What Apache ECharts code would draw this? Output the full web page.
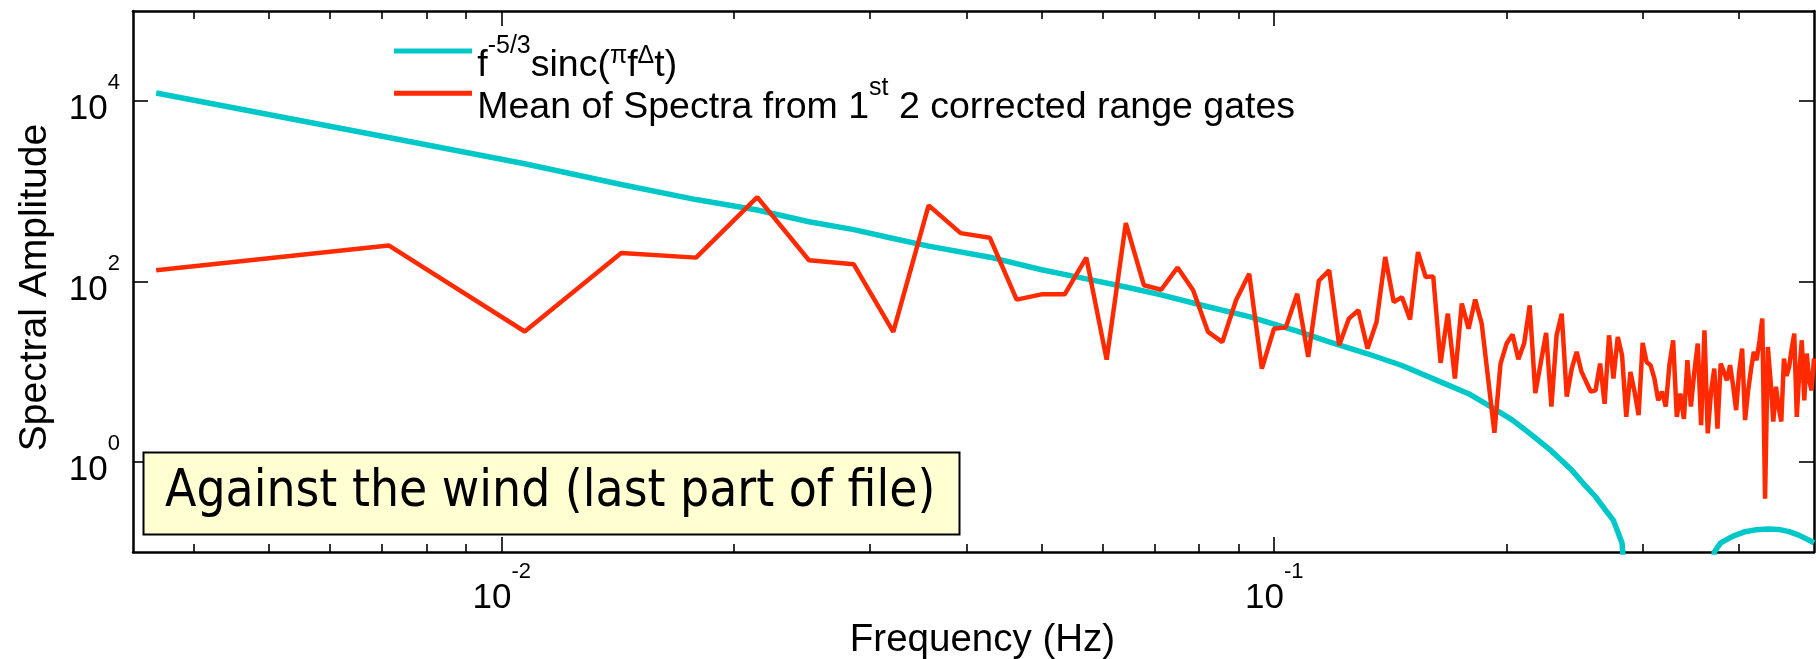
<!DOCTYPE html>
<html>
<head>
<meta charset="utf-8">
<script src="https://cdn.jsdelivr.net/npm/echarts@6/dist/echarts.min.js"></script>
<style>
html,body{margin:0;padding:0;background:#fff;}
#chart{width:1816px;height:659px;}
</style>
</head>
<body>
<div id="chart"></div>
<script>
// ---------- data ----------
const X_MIN = 1 / 300;
const X_MAX = 0.5;
const Y_MIN = 0.1;
const Y_MAX = 1e5;
const X_MAJOR_TICKS = [0.01, 0.1];
const X_MINOR_TICKS = [0.004, 0.005, 0.006, 0.007, 0.008, 0.009, 0.02, 0.03, 0.04, 0.05, 0.06, 0.07, 0.08, 0.09, 0.2, 0.3, 0.4];
const Y_TICKS = [1, 100, 10000];

// frequency resolution of the spectra (Hz); bin k sits at k * DF
const DF = 1 / 280;

// Mean of spectra, bins k = 1 .. 140
const redValues = [
  133, 251, 27.9, 207, 184, 864, 172, 155, 27.6, 699,
  344, 306, 63, 72, 72, 184, 13.6, 445, 90.8, 81,
  143, 80, 27.6, 21.3, 62, 122, 10.8, 30, 31, 73,
  14.6, 102, 133, 19.6, 38.8, 48, 18, 35.6, 187, 59,
  67, 37.8, 212, 112, 114, 12.5, 44, 8.4, 57, 30,
  63, 34, 8.4, 2.1, 12.3, 20.5, 25.8, 13.7, 20.5, 54.5,
  5.8, 12.5, 26.9, 4.1, 25.3, 44, 5.3, 10.8, 16.6, 10,
  7.7, 6.0, 6.2, 12.3, 4.4, 25.3, 8.4, 24.3, 15.2, 3.15,
  9.9, 6, 3.3, 20.8, 12.8, 11.8, 8.4, 4.8, 6, 4.1,
  12, 22.3, 3.15, 5.7, 3.0, 13.4, 4.1, 10, 20.5, 2.55,
  28.8, 2.07, 6, 10.8, 2.34, 12.3, 10, 8.0, 11.8, 7,
  3.74, 10, 18, 2.9, 6, 10.4, 16.6, 13.4, 22, 38.8,
  0.39, 18.8, 8, 2.8, 6.8, 4, 2.8, 14, 9, 11.3,
  18, 26.5, 3.15, 10, 22.3, 4.8, 15.9, 8, 6.2, 14
];

// f^-5/3 sinc curve, read at these bins (null = curve not drawn, negative lobe)
const cyanK = [1, 2, 3, 4, 5, 6, 7, 8, 9, 10, 12, 14, 16, 18, 20, 23, 26, 30, 33, 37, 41, 46, 50, 53, 57, 60, 64, 68, 71, 73, 75, 77, 79, 80,
  90,
  103, 104, 106, 110, 114, 118, 122, 126, 130, 134, 138, 140];
const cyanValues = [12300, 3950, 2020, 1190, 810, 620, 460, 376, 300, 247, 186, 135, 107, 87, 71, 52.5, 40.7, 28.2, 21.4, 15.8, 11.7, 7.7, 5.7, 4.25, 2.9, 2.07, 1.32, 0.81, 0.53, 0.41, 0.30, 0.224, 0.126, 0.03,
  null,
  0.03, 0.1, 0.126, 0.15, 0.168, 0.177, 0.18, 0.178, 0.168, 0.153, 0.135, 0.126];

const CYAN_NAME = 'f^-5/3 sinc(πfΔt)';
const RED_NAME = 'Mean of Spectra from 1st 2 corrected range gates';
const ANNOT_TEXT = 'Against the wind (last part of file)';

// ---------- chart ----------
const FONT = '"Liberation Sans", Arial, Helvetica, sans-serif';
const BLACK = '#000';
const CYAN = '#00c8c8';
const RED = '#ff2a00';

const labelRich = {
  h: { fontSize: 1, lineHeight: 52, verticalAlign: 'bottom' },
  b: { fontSize: 35, fontFamily: FONT, color: BLACK, lineHeight: 36, verticalAlign: 'bottom' },
  s: { fontSize: 22, fontFamily: FONT, color: BLACK, lineHeight: 22, verticalAlign: 'bottom', padding: [0, 0, 33, 0] }
};
const powLabel = v => '{h| }{b|10}{s|' + Math.round(Math.log10(v)) + '}';

const legendRich = {
  h: { fontSize: 1, lineHeight: 67, verticalAlign: 'bottom' },
  a: { fontSize: 37.5, fontFamily: FONT, color: BLACK, lineHeight: 38, verticalAlign: 'bottom' },
  s: { fontSize: 25, fontFamily: FONT, color: BLACK, lineHeight: 25, verticalAlign: 'bottom', padding: [0, 0, 26, 0] },
  g: { fontSize: 25, fontFamily: FONT, color: BLACK, lineHeight: 25, verticalAlign: 'bottom', padding: [0, 0, 16, 0] }
};
const legendText = {};
legendText[CYAN_NAME] = '{h| }{a|f}{s|-5/3}{a|sinc(}{g|π}{a|f}{g|Δ}{a|t)}';
legendText[RED_NAME] = '{h| }{a|Mean of Spectra from 1}{s|st}{a| 2 corrected range gates}';

const axisLineStyle = { color: BLACK, width: 2.5 };
const tickStyle = { color: BLACK, width: 1.6 };

function xAxisDef(position, ticks, len, withLine, withLabel) {
  const ax = {
    type: 'log', logBase: 10, min: X_MIN, max: X_MAX, position: position,
    axisLine: { show: withLine, onZero: false, lineStyle: axisLineStyle },
    axisTick: { show: true, inside: true, length: len, lineStyle: tickStyle, customValues: ticks },
    axisLabel: { show: withLabel },
    splitLine: { show: false }, minorTick: { show: false }, minorSplitLine: { show: false },
    axisPointer: { show: false }
  };
  if (withLabel) {
    ax.axisLabel = { show: true, customValues: ticks, formatter: powLabel, rich: labelRich, margin: 12 };
    ax.name = 'Frequency (Hz)';
    ax.nameLocation = 'middle';
    ax.nameGap = 62;
    ax.nameTextStyle = { fontFamily: FONT, fontSize: 38.5, color: BLACK, padding: [0, 0, 0, 18] };
  }
  return ax;
}
function yAxisDef(position, withLabel) {
  const ax = {
    type: 'log', logBase: 10, min: Y_MIN, max: Y_MAX, position: position,
    axisLine: { show: true, onZero: false, lineStyle: axisLineStyle },
    axisTick: { show: true, inside: true, length: 15, lineStyle: tickStyle, customValues: Y_TICKS },
    axisLabel: { show: withLabel },
    splitLine: { show: false }, minorTick: { show: false }, minorSplitLine: { show: false },
    axisPointer: { show: false }
  };
  if (withLabel) {
    ax.axisLabel = { show: true, customValues: Y_TICKS, formatter: powLabel, rich: labelRich, margin: 13 };
    ax.name = 'Spectral Amplitude';
    ax.nameLocation = 'middle';
    ax.nameGap = 78;
    ax.nameTextStyle = { fontFamily: FONT, fontSize: 39, color: BLACK, padding: [0, 12, 0, 0] };
  }
  return ax;
}

function legendDef(name, color, top) {
  return {
    show: true, data: [{ name: name, icon: 'rect', itemStyle: { color: color } }],
    left: 394, top: top, orient: 'horizontal', padding: 0,
    itemWidth: 78, itemHeight: 5, selectedMode: false,
    formatter: n => legendText[n],
    textStyle: { rich: legendRich, color: BLACK }
  };
}

const chart = echarts.init(document.getElementById('chart'), null, { renderer: 'canvas' });
chart.setOption({
  backgroundColor: '#fff',
  animation: false,
  grid: { left: 133, right: 2, top: 11, bottom: 107, containLabel: false, outerBoundsMode: 'none' },
  xAxis: [
    xAxisDef('bottom', X_MAJOR_TICKS, 15, true, true),
    xAxisDef('bottom', X_MINOR_TICKS, 8, false, false),
    xAxisDef('top', X_MAJOR_TICKS, 15, true, false),
    xAxisDef('top', X_MINOR_TICKS, 8, false, false)
  ],
  yAxis: [
    yAxisDef('left', true),
    yAxisDef('right', false)
  ],
  legend: [legendDef(CYAN_NAME, CYAN, 33.5), legendDef(RED_NAME, RED, 75.8)],
  series: [
    {
      name: CYAN_NAME, type: 'line', xAxisIndex: 0, yAxisIndex: 0,
      data: cyanK.map((k, i) => [k * DF, cyanValues[i] === null ? '-' : cyanValues[i]]),
      symbol: 'none', connectNulls: false, clip: true,
      lineStyle: { color: CYAN, width: 5.5 }, itemStyle: { color: CYAN }, z: 2
    },
    {
      name: RED_NAME, type: 'line', xAxisIndex: 0, yAxisIndex: 0,
      data: redValues.map((v, i) => [(i + 1) * DF, v]),
      symbol: 'none', clip: true,
      lineStyle: { color: RED, width: 4.5 }, itemStyle: { color: RED }, z: 3
    }
  ],
  graphic: [
    {
      type: 'rect', z: 10,
      shape: { x: 143.5, y: 452.5, width: 816, height: 82 },
      style: { fill: '#ffffd2', stroke: BLACK, lineWidth: 2 }
    },
    {
      type: 'text', z: 11, x: 165, y: 493,
      style: { text: ANNOT_TEXT, fontSize: 51, fontFamily: '"DejaVu Sans Condensed", "DejaVu Sans"', fill: BLACK, verticalAlign: 'middle' }
    }
  ]
});
</script>
</body>
</html>
